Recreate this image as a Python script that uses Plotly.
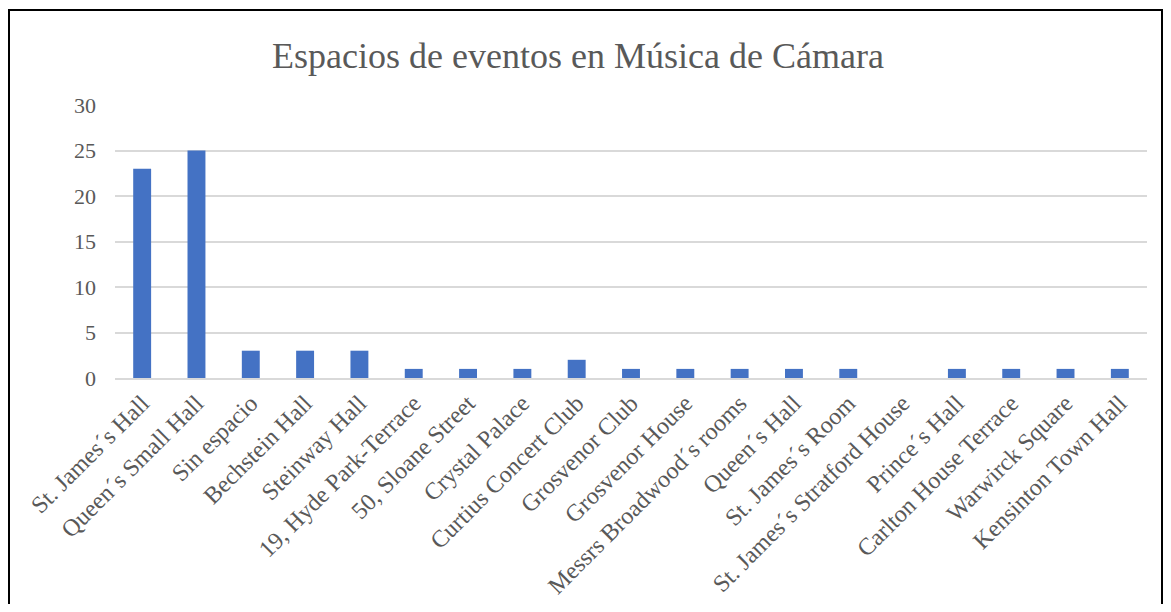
import plotly.graph_objects as go

categories = [
    "St. James´s Hall", "Queen´s Small Hall", "Sin espacio", "Bechstein Hall",
    "Steinway Hall", "19, Hyde Park-Terrace", "50, Sloane Street", "Crystal Palace",
    "Curtius Concert Club", "Grosvenor Club", "Grosvenor House",
    "Messrs Broadwood´s rooms", "Queen´s Hall", "St. James´s Room",
    "St. James´s Stratford House", "Prince´s Hall", "Carlton House Terrace",
    "Warwirck Square", "Kensinton Town Hall",
]
values = [23, 25, 3, 3, 3, 1, 1, 1, 2, 1, 1, 1, 1, 1, 0, 1, 1, 1, 1]
y_ticks = [0, 5, 10, 15, 20, 25, 30]

FONT = "Liberation Serif, Times New Roman, serif"
GREY = "#595959"

fig = go.Figure(go.Bar(
    x=categories, y=values,
    marker=dict(color="#4472C4", line=dict(width=0)),
))

# page body has an 8px margin; figure sized so it fits the 1171x612 window
OFF = 8
W, H = 1171 - 2 * OFF, 612 - 2 * OFF
L, R, T, B = 115 - OFF, W - (1147 - OFF), 105 - OFF, H - (378 - OFF)
pw, ph = W - L - R, H - T - B

def fx(x):  # figure pixel -> paper x
    return (x - L) / pw

def fy(y):  # figure pixel -> paper y
    return (H - B - y) / ph

fig.update_layout(
    width=W, height=H,
    margin=dict(l=L, r=R, t=T, b=B),
    paper_bgcolor="white", plot_bgcolor="white",
    bargap=0.67,
    showlegend=False,
    font=dict(family=FONT, color=GREY),
    title=dict(
        text="Espacios de eventos en Música de Cámara",
        font=dict(family=FONT, size=36, color=GREY),
        x=(578 - OFF) / W, xanchor="center", y=1 - (55 - OFF) / H, yanchor="middle",
    ),
    xaxis=dict(
        tickangle=-45, tickfont=dict(size=24, color=GREY, family=FONT),
        showgrid=False, showline=True, linecolor="#d9d9d9", linewidth=1.5,
        ticks="", automargin=False,
    ),
    yaxis=dict(
        range=[0, 30], tickvals=y_ticks, tickfont=dict(size=22, color=GREY, family=FONT),
        showgrid=True, gridcolor="#d9d9d9", gridwidth=1.5, zeroline=False,
        showline=False, ticks="", ticklabelstandoff=18, automargin=False,
    ),
    shapes=[dict(
        type="rect", xref="paper", yref="paper",
        x0=fx(1), x1=fx(W - 1), y0=fy(H + 40), y1=fy(2),
        line=dict(color="black", width=2), fillcolor="rgba(0,0,0,0)", layer="above",
    )],
)

fig.write_html("out.html")
